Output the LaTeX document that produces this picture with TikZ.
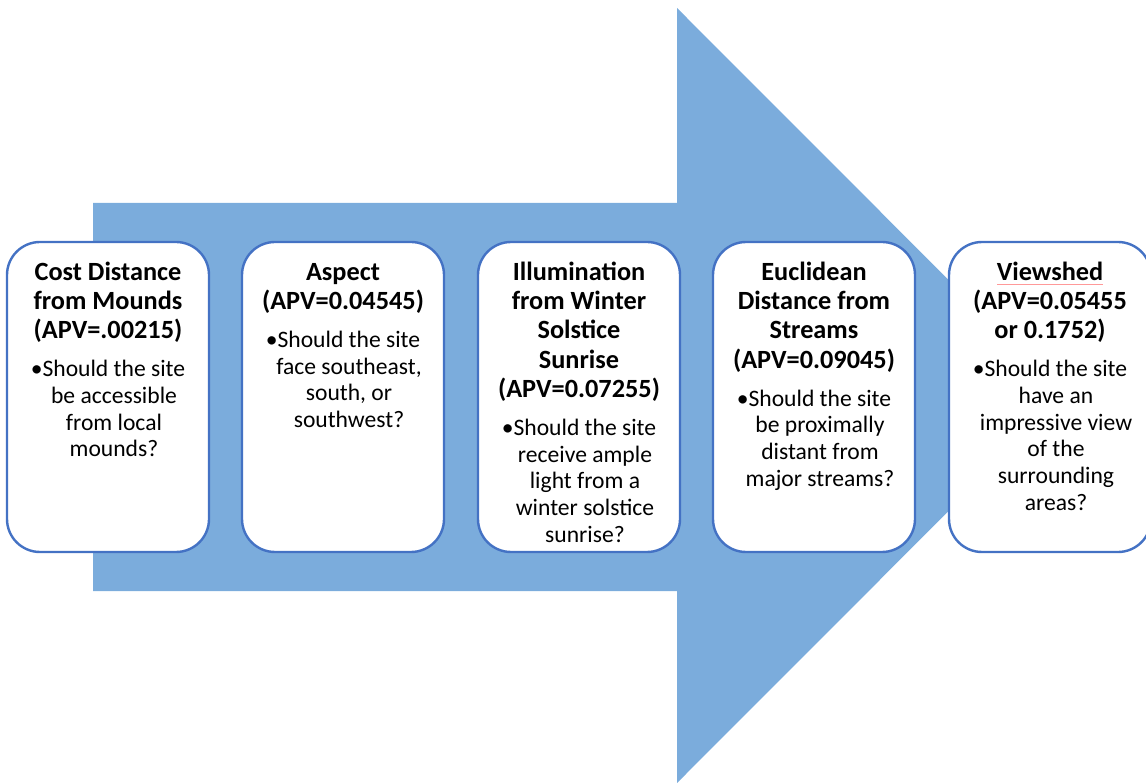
\documentclass[tikz,border=0pt]{standalone}
\usepackage{fontspec}
\setmainfont{Carlito}
\definecolor{arrowblue}{RGB}{123,172,220}
\definecolor{boxblue}{RGB}{68,114,196}
\begin{document}
\begin{tikzpicture}[x=1pt,y=-1pt,
  box/.style={draw=boxblue, line width=2.4pt, fill=white, rounded corners=33pt,
    minimum width=202pt, minimum height=310pt, inner sep=0pt},
  ttl/.style={font=\fontsize{26.3}{29.3}\selectfont\bfseries, align=center, anchor=north, inner sep=0pt},
  bul/.style={font=\fontsize{23.6}{26.7}\selectfont, align=center, anchor=north, inner sep=0pt},
]
\useasboundingbox (0,0) rectangle (1146,783);
\fill[arrowblue] (93,203) -- (677,203) -- (677,8) -- (1064,395.5) -- (677,783) -- (677,591) -- (93,591) -- cycle;

\node (b1) [box] at (108,397) {};
\node (b2) [box] at (343,397) {};
\node (b3) [box] at (579,397) {};
\node (b4) [box] at (814,397) {};
\node (b5) [box] at (1050,397) {};

\node (t1) [ttl] at (108,256) {\rule{0pt}{24pt}Cost Distance\\from Mounds\\(APV=.00215)\rule[-7pt]{0pt}{7pt}};
\node (q1) [bul] at ([yshift=-10.5pt]t1.south) {\rule{0pt}{20pt}•Should the site\\\hspace*{12pt}be accessible\\\hspace*{12pt}from local\\\hspace*{12pt}mounds?};

\node (t2) [ttl] at (343,256) {\rule{0pt}{24pt}Aspect\\(APV=0.04545)\rule[-7pt]{0pt}{7pt}};
\node (q2) [bul] at ([yshift=-10.5pt]t2.south) {\rule{0pt}{20pt}•Should the site\\\hspace*{12pt}face southeast,\\\hspace*{12pt}south, or\\\hspace*{12pt}southwest?};

\node (t3) [ttl] at (579,256) {\rule{0pt}{24pt}Illumination\\from Winter\\Solstice\\Sunrise\\(APV=0.07255)\rule[-7pt]{0pt}{7pt}};
\node (q3) [bul] at ([yshift=-10.5pt]t3.south) {\rule{0pt}{20pt}•Should the site\\\hspace*{12pt}receive ample\\\hspace*{12pt}light from a\\\hspace*{12pt}winter solstice\\\hspace*{12pt}sunrise?};

\node (t4) [ttl] at (814,256) {\rule{0pt}{24pt}Euclidean\\Distance from\\Streams\\(APV=0.09045)\rule[-7pt]{0pt}{7pt}};
\node (q4) [bul] at ([yshift=-10.5pt]t4.south) {\rule{0pt}{20pt}•Should the site\\\hspace*{12pt}be proximally\\\hspace*{12pt}distant from\\\hspace*{12pt}major streams?};

\node (t5) [ttl] at (1050,256) {\rule{0pt}{24pt}Viewshed\\(APV=0.05455\\or 0.1752)\rule[-7pt]{0pt}{7pt}};
\node (q5) [bul] at ([yshift=-10.5pt]t5.south) {\rule{0pt}{20pt}•Should the site\\\hspace*{12pt}have an\\\hspace*{12pt}impressive view\\\hspace*{12pt}of the\\\hspace*{12pt}surrounding\\\hspace*{12pt}areas?};
\draw[red!40, line width=0.8pt] (997,284) -- (1103,284);
\end{tikzpicture}
\end{document}
